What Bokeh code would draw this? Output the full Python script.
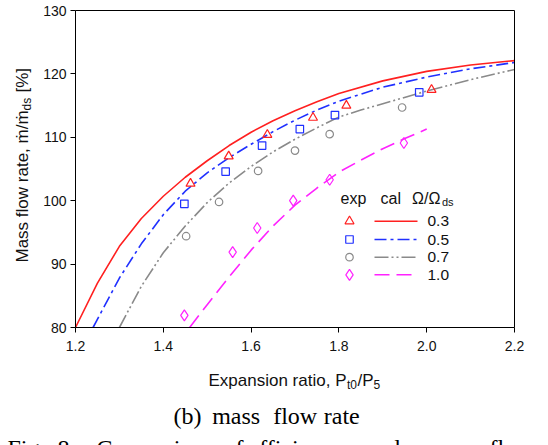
import math
from bokeh.plotting import figure
from bokeh.models import Label, FixedTicker, PrintfTickFormatter, Range1d, LinearAxis
from bokeh.embed import file_html
from bokeh.resources import INLINE

# ---------------- data ----------------
x_ticks = [1.2, 1.4, 1.6, 1.8, 2.0, 2.2]
y_ticks = [80, 90, 100, 110, 120, 130]

# experimental points
exp03_x = [1.462, 1.549, 1.637, 1.741, 1.817, 2.011]
exp03_y = [102.7, 107.0, 110.4, 113.1, 115.0, 117.5]
exp05_x = [1.448, 1.542, 1.625, 1.711, 1.791, 1.983]
exp05_y = [99.5, 104.6, 108.7, 111.3, 113.5, 117.1]
exp07_x = [1.452, 1.527, 1.616, 1.700, 1.779, 1.944]
exp07_y = [94.4, 99.8, 104.7, 107.9, 110.5, 114.7]
exp10_x = [1.448, 1.558, 1.614, 1.696, 1.779, 1.948]
exp10_y = [81.9, 91.9, 95.7, 100.0, 103.3, 109.1]

# calculated curves
cal03_x = [1.20, 1.25, 1.30, 1.35, 1.40, 1.45, 1.50, 1.55, 1.60, 1.65, 1.70, 1.75, 1.80, 1.90, 2.00, 2.10, 2.20]
cal03_y = [80.0, 87.0, 92.8, 97.2, 100.7, 103.7, 106.3, 108.7, 110.8, 112.6, 114.2, 115.6, 116.9, 118.9, 120.4, 121.4, 122.1]
cal05_x = [1.24, 1.30, 1.35, 1.40, 1.45, 1.50, 1.55, 1.60, 1.65, 1.70, 1.75, 1.80, 1.90, 2.00, 2.10, 2.20]
cal05_y = [80.0, 87.8, 93.2, 97.8, 101.5, 104.4, 106.8, 108.9, 110.9, 112.7, 114.3, 115.7, 117.9, 119.5, 120.8, 121.8]
cal07_x = [1.30, 1.35, 1.40, 1.45, 1.50, 1.55, 1.60, 1.65, 1.70, 1.75, 1.80, 1.85, 1.90, 2.00, 2.10, 2.20]
cal07_y = [80.0, 86.5, 91.8, 96.0, 99.7, 102.8, 105.4, 107.7, 109.7, 111.5, 113.2, 114.3, 115.3, 117.3, 119.1, 120.7]
cal10_x = [1.46, 1.50, 1.55, 1.60, 1.65, 1.70, 1.75, 1.80, 1.85, 1.90, 1.95, 2.00]
cal10_y = [80.0, 83.6, 88.0, 92.2, 96.0, 99.3, 102.0, 104.5, 106.4, 108.2, 109.8, 111.3]

legend_labels = ["0.3", "0.5", "0.7", "1.0"]

# ---------------- layout helpers ----------------
W, H = 548, 445
FL, FR, FT, FB = 75, 514, 10, 327   # plot box edges in pixels
XMIN, XMAX, YMIN, YMAX = 1.2, 2.2, 80, 130
XPP = (XMAX - XMIN) / (FR - FL)      # data units per pixel
YPP = (YMAX - YMIN) / (FB - FT)


def dx(px):
    return XMIN + (px - FL) * XPP


def dy(py):
    return YMIN + (FB - py) * YPP


SANS = "Liberation Sans"
SERIF = "Liberation Serif"

p = figure(width=W, height=H,
           x_range=Range1d(dx(0), dx(W)), y_range=Range1d(dy(H), dy(0)),
           output_backend="svg", toolbar_location=None,
           x_axis_location=None, y_axis_location=None,
           min_border=0)
p.min_border_left = 0
p.min_border_right = 0
p.min_border_top = 0
p.min_border_bottom = 0
p.background_fill_color = "white"
p.border_fill_color = "white"
p.outline_line_color = None
p.grid.visible = False


def style_axis(ax):
    ax.major_tick_in = 0
    ax.major_tick_out = 5
    ax.minor_tick_in = 0
    ax.minor_tick_out = 0
    ax.axis_line_color = "black"
    ax.axis_line_width = 1
    ax.major_tick_line_color = "black"
    ax.major_label_text_font = SANS
    ax.major_label_text_font_size = "14px"
    ax.major_label_text_color = "#111111"


xa = LinearAxis(fixed_location=YMIN, bounds=(XMIN, XMAX), ticker=FixedTicker(ticks=x_ticks),
                formatter=PrintfTickFormatter(format="%.1f"))
style_axis(xa)
xa.major_label_standoff = 8
p.add_layout(xa, "below")

ya = LinearAxis(fixed_location=XMIN, bounds=(YMIN, YMAX), ticker=FixedTicker(ticks=y_ticks),
                formatter=PrintfTickFormatter(format="%d"))
style_axis(ya)
ya.major_label_standoff = 4
p.add_layout(ya, "left")

# box closing axes (no ticks)
ta = LinearAxis(fixed_location=YMAX, bounds=(XMIN, XMAX), ticker=FixedTicker(ticks=[]))
ta.axis_line_color = "black"
p.add_layout(ta, "above")
ra = LinearAxis(fixed_location=XMAX, bounds=(YMIN, YMAX), ticker=FixedTicker(ticks=[]))
ra.axis_line_color = "black"
p.add_layout(ra, "right")

RED, BLUE, GRAY, MAG = "#ff2020", "#2030ff", "#8a8a8a", "#ff22ff"
styles = [
    (RED, "solid", "triangle", 9),
    (BLUE, "12 4 3 4", "square", 7.5),
    (GRAY, "14 3 2 3 2 3", "circle", 7.5),
    (MAG, "15 7", "diamond", 11),
]
cals = [(cal03_x, cal03_y), (cal05_x, cal05_y), (cal07_x, cal07_y), (cal10_x, cal10_y)]
exps = [(exp03_x, exp03_y), (exp05_x, exp05_y), (exp07_x, exp07_y), (exp10_x, exp10_y)]

for (cx, cy), (col, dash, mk, sz) in zip(cals, styles):
    p.line(cx, cy, line_color=col, line_width=1.6, line_dash=dash)
for (ex, ey), (col, dash, mk, sz) in zip(exps, styles):
    p.scatter(ex, ey, marker=mk, size=sz, fill_color=None, line_color=col, line_width=1.2)

# ---------------- legend (manual) ----------------
row_y = [220.7, 239.0, 256.7, 274.3]
for ry, lab, (col, dash, mk, sz) in zip(row_y, legend_labels, styles):
    p.scatter([dx(349)], [dy(ry)], marker=mk, size=sz, fill_color=None, line_color=col, line_width=1.2)
    p.segment(x0=[dx(374)], y0=[dy(ry)], x1=[dx(417)], y1=[dy(ry)], line_color=col,
              line_width=1.6, line_dash=dash)
    p.add_layout(Label(x=dx(427), y=dy(ry), text=lab, text_font=SANS, text_font_size="15.5px",
                       text_baseline="middle", text_align="left", text_color="#111111"))

hdr_y = 197.7
for tx, t, fs, yoff in [(340, "exp", "16px", 0), (380, "cal", "16px", 0),
                        (411.5, "Ω/Ω", "16px", 0), (441.5, "ds", "11px", 4)]:
    p.add_layout(Label(x=dx(tx), y=dy(hdr_y + yoff), text=t, text_font=SANS, text_font_size=fs,
                       text_baseline="middle", text_align="left", text_color="#111111"))

# ---------------- axis titles ----------------
xl_y = 380
for tx, t, fs, yoff in [(208, "Expansion ratio, P", "17px", 0), (346.5, "t0", "12px", 4),
                        (357, "/P", "17px", 0), (373, "5", "12px", 4)]:
    p.add_layout(Label(x=dx(tx), y=dy(xl_y + yoff), text=t, text_font=SANS, text_font_size=fs,
                       text_baseline="middle", text_align="left", text_color="#111111"))

yl_x = 22
for ty, t, fs, xoff in [(262, "Mass flow rate, ṁ/ṁ", "17px", 0), (110, "ds", "12px", 4),
                        (92, "[%]", "17px", 0)]:
    p.add_layout(Label(x=dx(yl_x + xoff), y=dy(ty), text=t, text_font=SANS, text_font_size=fs,
                       text_baseline="middle", text_align="left", angle=math.pi / 2,
                       text_color="#111111"))

# ---------------- captions ----------------
for tx, t in [(173, "(b)"), (211.7, "mass"), (272.7, "flow"), (323.3, "rate")]:
    p.add_layout(Label(x=dx(tx), y=dy(415.7), text=t, text_font=SERIF, text_font_size="24px",
                       text_baseline="middle", text_align="left", text_color="black"))

for tx, t in [(7, "Fig."), (57, "8:"), (96, "Comparisons"), (223, "of"), (248, "efficiency"),
              (365, "and"), (418, "mass"), (489, "flow")]:
    p.add_layout(Label(x=dx(tx), y=dy(434), text=t, text_font=SERIF, text_font_size="24px",
                       text_baseline="top", text_align="left", text_color="black"))

open("out.html", "w").write(file_html(p, INLINE))
